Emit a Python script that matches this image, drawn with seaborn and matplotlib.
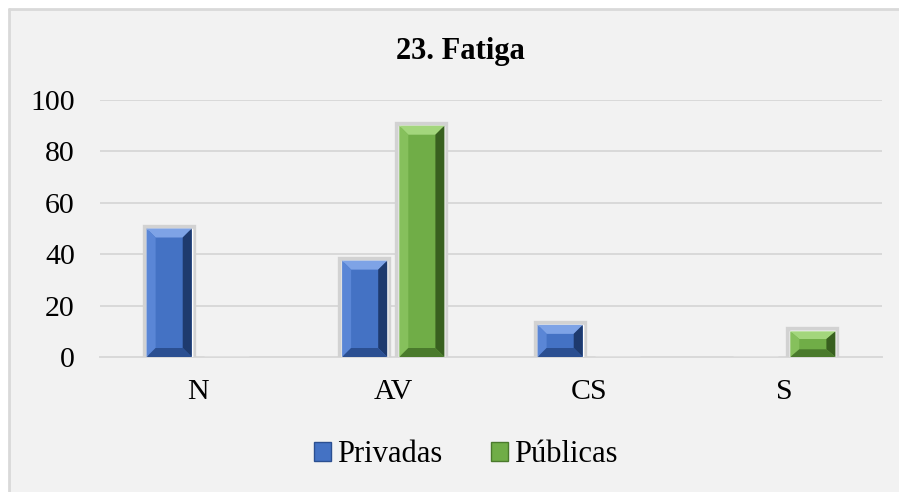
import matplotlib
matplotlib.use("Agg")
import matplotlib.pyplot as plt
import matplotlib.patheffects as pe
from matplotlib.patches import Polygon
from matplotlib.lines import Line2D
import seaborn as sns
import pandas as pd

categories = ["N", "AV", "CS", "S"]
privadas = [50, 37.5, 12.5, 0]
publicas = [0, 90, 0, 10]
series_names = ["Privadas", "Públicas"]
title = "23. Fatiga"
yticks = [0, 20, 40, 60, 80, 100]

colors = {"Privadas": "#4472c4", "Públicas": "#70ad47"}
light = {"Privadas": "#7ea3e6", "Públicas": "#a3d67c"}
mid_l = {"Privadas": "#5a86d6", "Públicas": "#86c05c"}
dark = {"Privadas": "#2b4f91", "Públicas": "#4a7a2c"}
darker = {"Privadas": "#1e3a6e", "Públicas": "#38601f"}

df = pd.DataFrame({
    "cat": categories * 2,
    "serie": [series_names[0]] * 4 + [series_names[1]] * 4,
    "val": privadas + publicas,
})

sns.set_theme(style="white")
plt.rcParams["font.family"] = ["Liberation Serif", "DejaVu Serif"]
plt.rcParams["text.color"] = "black"
plt.rcParams["xtick.color"] = "black"
plt.rcParams["ytick.color"] = "black"

W, H = 899, 492
fig = plt.figure(figsize=(W / 100, H / 100), dpi=100)
fig.patch.set_facecolor("white")
# chart background area; border visible only at top and left
bg = plt.Rectangle((9 / W, -0.2), 1.2, 1.2 - 9 / H, transform=fig.transFigure,
                   facecolor="#f2f2f2", edgecolor="none", zorder=-10)
fig.patches.append(bg)
fig.lines.append(Line2D([9 / W, 9 / W], [0, 1 - 9 / H], transform=fig.transFigure,
                        color="#d9d9d9", linewidth=2, zorder=-9))
fig.lines.append(Line2D([9 / W, 1], [1 - 9 / H, 1 - 9 / H], transform=fig.transFigure,
                        color="#d9d9d9", linewidth=2, zorder=-9))

ax = fig.add_axes([100 / W, 1 - 357 / H, (882 - 100) / W, (357 - 100) / H])
ax.set_facecolor("none")

sns.barplot(data=df, x="cat", y="val", hue="serie", order=categories,
            hue_order=series_names, palette=colors, width=0.585, gap=0.21,
            saturation=1, ax=ax, legend=False, zorder=3)

ax.set_ylim(0, 100)
ax.set_xlim(-0.5, 3.5)
ax.set_yticks(yticks)
ax.yaxis.grid(True, color="#d9d9d9", linewidth=1.4, zorder=0)
ax.set_axisbelow(True)
for s in ["top", "right", "left"]:
    ax.spines[s].set_visible(False)
ax.spines["bottom"].set_color("#d9d9d9")
ax.spines["bottom"].set_linewidth(1.4)
ax.tick_params(axis="both", length=0, labelsize=21.5, colors="black", labelcolor="black")
ax.tick_params(axis="y", pad=18)
ax.tick_params(axis="x", pad=16)
ax.set_xlabel("")
ax.set_ylabel("")

# bevel effect derived from each bar's geometry
fig.canvas.draw()
px_per_unit = ax.bbox.height / 100.0
for container, name in zip(ax.containers, series_names):
    for bar in container:
        h = bar.get_height()
        if h <= 0:
            continue
        bar.set_path_effects([pe.withStroke(linewidth=6, foreground="#d2d2d2"), pe.Normal()])
        x0 = bar.get_x()
        w = bar.get_width()
        x1 = x0 + w
        y0, y1 = 0, h
        bx = w * 0.2
        by = min(9 / px_per_unit, h * 0.3)
        top = Polygon([(x0, y1), (x1, y1), (x1 - bx, y1 - by), (x0 + bx, y1 - by)],
                      closed=True, facecolor=light[name], edgecolor="none", zorder=4)
        left = Polygon([(x0, y0), (x0, y1), (x0 + bx, y1 - by), (x0 + bx, y0 + by)],
                       closed=True, facecolor=mid_l[name], edgecolor="none", zorder=4)
        right = Polygon([(x1, y0), (x1, y1), (x1 - bx, y1 - by), (x1 - bx, y0 + by)],
                        closed=True, facecolor=darker[name], edgecolor="none", zorder=4)
        bottom = Polygon([(x0, y0), (x1, y0), (x1 - bx, y0 + by), (x0 + bx, y0 + by)],
                         closed=True, facecolor=dark[name], edgecolor="none", zorder=4)
        for p in (top, left, right, bottom):
            ax.add_patch(p)

fig.text(460 / W, 1 - 51 / H, title, ha="center", va="center",
         fontsize=22, fontweight="bold", color="black")

handles = [plt.Rectangle((0, 0), 1, 1, facecolor=colors[n], edgecolor=dark[n], linewidth=1)
           for n in series_names]
leg = fig.legend(handles, series_names, loc="center", bbox_to_anchor=(466 / W, 1 - 455 / H),
                 ncol=2, frameon=False, fontsize=22, handlelength=0.55, handleheight=0.55,
                 handletextpad=0.2, columnspacing=1.6)
for t in leg.get_texts():
    t.set_color("black")

fig.savefig("out.png", dpi=100, facecolor=fig.get_facecolor())
